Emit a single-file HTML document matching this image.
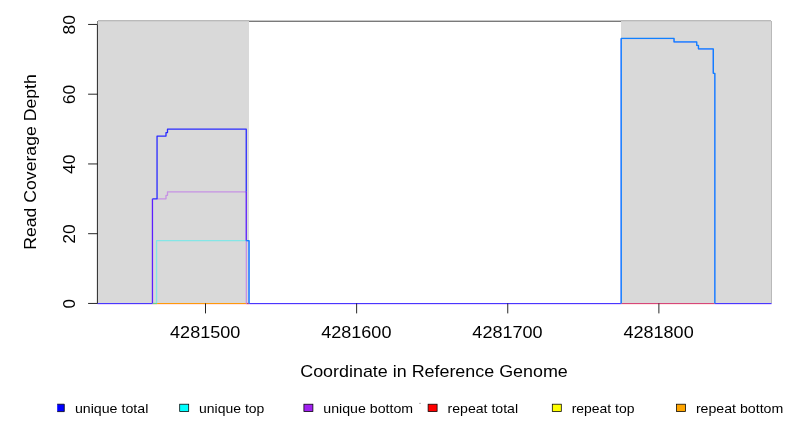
<!DOCTYPE html>
<html><head><meta charset="utf-8"><title>coverage</title>
<style>html,body{margin:0;padding:0;background:#fff;}svg{display:block;will-change:transform;transform:translateZ(0)}text{font-family:"Liberation Sans",sans-serif;fill:#000}</style>
</head><body>
<svg width="792" height="432" viewBox="0 0 792 432">
<rect width="792" height="432" fill="#fff"/>
<rect x="97.4" y="21" width="151.6" height="282.45" fill="#d9d9d9"/>
<rect x="621.0" y="21" width="150.60" height="282.45" fill="#d9d9d9"/>
<g shape-rendering="crispEdges">
<rect x="98" y="20" width="151" height="1" fill="#bababa"/>
<rect x="249" y="20" width="372" height="1" fill="#c8c8c8"/>
<rect x="621" y="20" width="150" height="1" fill="#bababa"/>
<rect x="98" y="21" width="151" height="1" fill="#cecece"/>
<rect x="249" y="21" width="372" height="1" fill="#7a7a7a"/>
<rect x="621" y="21" width="150" height="1" fill="#cecece"/>
<rect x="771" y="21" width="1" height="282" fill="#b9b9b9"/>
<rect x="97" y="21" width="1" height="3" fill="#808080"/>
</g>
<line x1="97.4" y1="303.5" x2="152.4" y2="303.5" stroke="#4838ff" stroke-width="1.2"/>
<line x1="152.4" y1="303.5" x2="157.1" y2="303.5" stroke="#68d884" stroke-width="1.2"/>
<line x1="157.1" y1="303.5" x2="246.3" y2="303.5" stroke="#ff9a0a" stroke-width="1.2"/>
<line x1="246.3" y1="303.5" x2="249.1" y2="303.5" stroke="#d23c64" stroke-width="1.2"/>
<line x1="249.1" y1="303.5" x2="621.2" y2="303.5" stroke="#4838ff" stroke-width="1.2"/>
<line x1="621.2" y1="303.5" x2="714.9" y2="303.5" stroke="#d6467a" stroke-width="1.2"/>
<line x1="714.9" y1="303.5" x2="771.6" y2="303.5" stroke="#4838ff" stroke-width="1.2"/>
<line x1="97.4" y1="304.55" x2="152.4" y2="304.55" stroke="#a050ff" stroke-opacity="0.22" stroke-width="1.1"/>
<line x1="152.4" y1="304.55" x2="249.1" y2="304.55" stroke="#ff5050" stroke-opacity="0.14" stroke-width="1.1"/>
<line x1="249.1" y1="304.55" x2="621.2" y2="304.55" stroke="#a050ff" stroke-opacity="0.22" stroke-width="1.1"/>
<line x1="621.2" y1="304.55" x2="714.9" y2="304.55" stroke="#ff5050" stroke-opacity="0.14" stroke-width="1.1"/>
<line x1="714.9" y1="304.55" x2="771.6" y2="304.55" stroke="#a050ff" stroke-opacity="0.22" stroke-width="1.1"/>
<path d="M156.55 302.90 L156.55 240.67 L246.25 240.67" fill="none" stroke="#84e6e6" stroke-width="1.3" stroke-linejoin="round" stroke-linecap="butt"/>
<path d="M157.05 198.82 L166.00 198.82 L166.00 195.34 L167.50 195.34 L167.50 191.85 L246.25 191.85" fill="none" stroke="#c692e4" stroke-width="1.3" stroke-linejoin="round" stroke-linecap="butt"/>
<path d="M246.35 240.67 L246.35 303.50" fill="none" stroke="#c692e4" stroke-width="1.3" stroke-linejoin="round" stroke-linecap="butt"/>
<path d="M152.45 198.82 L157.05 198.82 L157.05 136.05 L166.00 136.05 L166.00 132.56 L167.50 132.56 L167.50 129.07 L246.25 129.07 L246.25 191.85" fill="none" stroke="#2a2aff" stroke-width="1.3" stroke-linejoin="round" stroke-linecap="butt"/>
<path d="M152.45 303.50 L152.45 198.82" fill="none" stroke="#5c1eff" stroke-width="1.3" stroke-linejoin="round" stroke-linecap="butt"/>
<path d="M246.25 191.85 L246.25 240.67" fill="none" stroke="#5c1eff" stroke-width="1.3" stroke-linejoin="round" stroke-linecap="butt"/>
<path d="M246.25 240.87 L248.80 240.87 L248.80 303.50" fill="none" stroke="#8a8aff" stroke-width="1.0" stroke-linejoin="round" stroke-linecap="butt"/>
<path d="M246.25 240.67 L249.10 240.67 L249.10 303.50" fill="none" stroke="#1080ff" stroke-width="1.3" stroke-linejoin="round" stroke-linecap="butt"/>
<path d="M620.95 303.50 L620.95 38.60 L673.80 38.60 L673.80 42.09 L696.50 42.09 L696.50 45.58 L698.20 45.58 L698.20 49.06 L713.05 49.06 L713.05 73.48 L714.60 73.48 L714.60 303.50" fill="none" stroke="#8a8aff" stroke-width="1.0" stroke-linejoin="round" stroke-linecap="butt"/>
<path d="M621.25 303.50 L621.25 38.40 L674.10 38.40 L674.10 41.89 L696.80 41.89 L696.80 45.38 L698.50 45.38 L698.50 48.86 L713.35 48.86 L713.35 73.28 L714.90 73.28 L714.90 303.50" fill="none" stroke="#1080ff" stroke-width="1.3" stroke-linejoin="round" stroke-linecap="butt"/>
<g stroke="#000" stroke-width="0.85" fill="none">
<line x1="97.4" y1="24.45" x2="97.4" y2="303.45"/>
<line x1="88.1" y1="303.45" x2="97.4" y2="303.45"/>
<line x1="88.1" y1="233.7" x2="97.4" y2="233.7"/>
<line x1="88.1" y1="163.95" x2="97.4" y2="163.95"/>
<line x1="88.1" y1="94.2" x2="97.4" y2="94.2"/>
<line x1="88.1" y1="24.45" x2="97.4" y2="24.45"/>
<line x1="205.50" y1="303.45" x2="205.50" y2="313.4"/>
<line x1="356.63" y1="303.45" x2="356.63" y2="313.4"/>
<line x1="507.76" y1="303.45" x2="507.76" y2="313.4"/>
<line x1="658.89" y1="303.45" x2="658.89" y2="313.4"/>
</g>
<text x="205.20" y="337.8" font-size="16.5" text-anchor="middle" textLength="70.2" lengthAdjust="spacingAndGlyphs">4281500</text>
<text x="356.33" y="337.8" font-size="16.5" text-anchor="middle" textLength="70.2" lengthAdjust="spacingAndGlyphs">4281600</text>
<text x="507.46" y="337.8" font-size="16.5" text-anchor="middle" textLength="70.2" lengthAdjust="spacingAndGlyphs">4281700</text>
<text x="658.59" y="337.8" font-size="16.5" text-anchor="middle" textLength="70.2" lengthAdjust="spacingAndGlyphs">4281800</text>
<text transform="translate(75.4 303.85) rotate(-90)" font-size="16.5" text-anchor="middle" textLength="9.3" lengthAdjust="spacingAndGlyphs">0</text>
<text transform="translate(75.4 234.10) rotate(-90)" font-size="16.5" text-anchor="middle" textLength="19.4" lengthAdjust="spacingAndGlyphs">20</text>
<text transform="translate(75.4 164.35) rotate(-90)" font-size="16.5" text-anchor="middle" textLength="19.4" lengthAdjust="spacingAndGlyphs">40</text>
<text transform="translate(75.4 94.60) rotate(-90)" font-size="16.5" text-anchor="middle" textLength="19.4" lengthAdjust="spacingAndGlyphs">60</text>
<text transform="translate(75.4 24.85) rotate(-90)" font-size="16.5" text-anchor="middle" textLength="19.4" lengthAdjust="spacingAndGlyphs">80</text>
<text x="434.0" y="376.8" font-size="17" text-anchor="middle" textLength="267.5" lengthAdjust="spacingAndGlyphs">Coordinate in Reference Genome</text>
<text transform="translate(35.9 162.0) rotate(-90)" font-size="17" text-anchor="middle" textLength="175.5" lengthAdjust="spacingAndGlyphs">Read Coverage Depth</text>
<rect x="57.2" y="404.2" width="7.1" height="7.4" fill="#0000ff"/><path d="M57.2 404.2 H64.3 V411.6 H57.2" fill="none" stroke="#000" stroke-width="0.75"/>
<text x="74.90" y="412.8" font-size="13.6" textLength="73.4" lengthAdjust="spacingAndGlyphs">unique total</text>
<rect x="179.70" y="404.2" width="9.0" height="7.4" fill="#00ffff" stroke="#000" stroke-width="0.75"/>
<text x="199.10" y="412.8" font-size="13.6" textLength="65.2" lengthAdjust="spacingAndGlyphs">unique top</text>
<rect x="303.90" y="404.2" width="9.0" height="7.4" fill="#a020f0" stroke="#000" stroke-width="0.75"/>
<text x="323.30" y="412.8" font-size="13.6" textLength="89.8" lengthAdjust="spacingAndGlyphs">unique bottom</text>
<rect x="428.10" y="404.2" width="9.0" height="7.4" fill="#ff0000" stroke="#000" stroke-width="0.75"/>
<text x="447.50" y="412.8" font-size="13.6" textLength="70.6" lengthAdjust="spacingAndGlyphs">repeat total</text>
<rect x="552.30" y="404.2" width="9.0" height="7.4" fill="#ffff00" stroke="#000" stroke-width="0.75"/>
<text x="571.70" y="412.8" font-size="13.6" textLength="62.8" lengthAdjust="spacingAndGlyphs">repeat top</text>
<rect x="676.50" y="404.2" width="9.0" height="7.4" fill="#ffa500" stroke="#000" stroke-width="0.75"/>
<text x="695.90" y="412.8" font-size="13.6" textLength="87.4" lengthAdjust="spacingAndGlyphs">repeat bottom</text>
<rect x="419" y="402.9" width="2" height="0.7" fill="#9a9a9a"/>
</svg></body></html>
